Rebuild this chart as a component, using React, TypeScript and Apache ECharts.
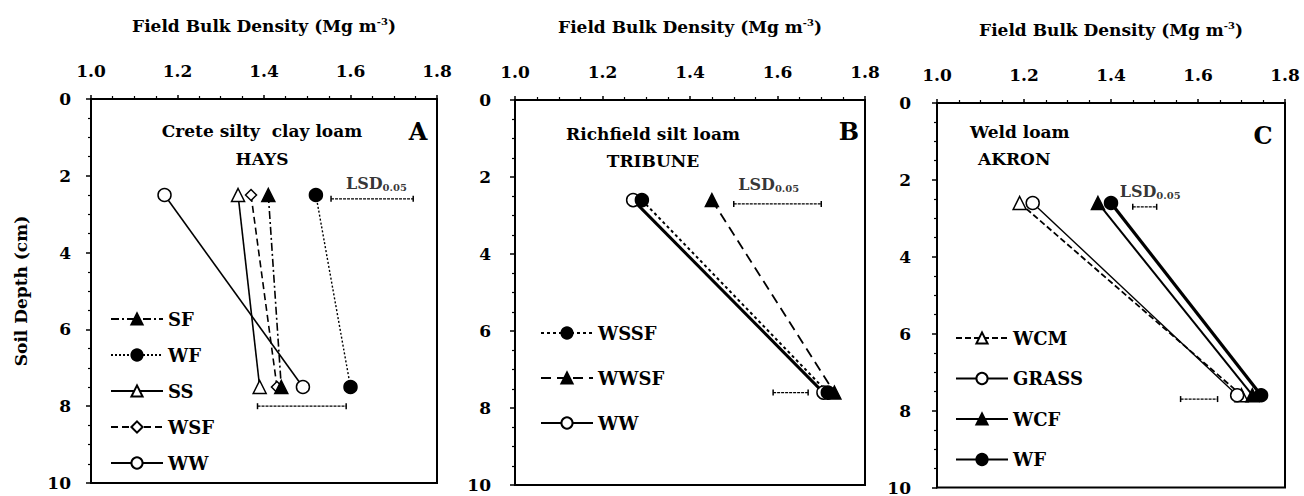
import React, { useEffect, useRef } from "react";
import * as echarts from "echarts";

// ---- data ----
const xTickLabels = ["1.0", "1.2", "1.4", "1.6", "1.8"];
const depthTicks = [0, 2, 4, 6, 8, 10];

const depthsA = [2.5, 7.5];
const depthsB = [2.6, 7.6];
const depthsC = [2.6, 7.6];

// Panel A: Crete silty clay loam, HAYS
const A_SF = [1.41, 1.44];
const A_WF = [1.52, 1.6];
const A_SS = [1.34, 1.39];
const A_WSF = [1.37, 1.43];
const A_WW = [1.17, 1.49];
const A_LSD_top = [1.555, 1.745];
const A_LSD_topDepth = 2.6;
const A_LSD_bot = [1.385, 1.59];
const A_LSD_botDepth = 8.0;

// Panel B: Richfield silt loam, TRIBUNE
const B_WSSF = [1.29, 1.715];
const B_WWSF = [1.45, 1.73];
const B_WW = [1.27, 1.705];
const B_LSD_top = [1.5, 1.7];
const B_LSD_topDepth = 2.7;
const B_LSD_bot = [1.59, 1.67];
const B_LSD_botDepth = 7.6;

// Panel C: Weld loam, AKRON
const C_WCM = [1.19, 1.7];
const C_GRASS = [1.22, 1.69];
const C_WCF = [1.37, 1.725];
const C_WF = [1.4, 1.745];
const C_LSD_top = [1.45, 1.505];
const C_LSD_topDepth = 2.7;
const C_LSD_bot = [1.56, 1.645];
const C_LSD_botDepth = 7.7;

const LSD_LABEL_X = [1.66, 1.58, 1.49];
const LSD_LABEL_D = [2.2, 2.2, 2.3];

const legendA = ["SF", "WF", "SS", "WSF", "WW"];
const legendB = ["WSSF", "WWSF", "WW"];
const legendC = ["WCM", "GRASS", "WCF", "WF"];

const FONT = "'DejaVu Serif', 'Liberation Serif', serif";

function mk(
  panel: string,
  name: string,
  xs: number[],
  ds: number[],
  g: number,
  symbol: string,
  filled: boolean,
  lineType: any,
  width: number,
  size = 13
) {
  return {
    type: "line",
    name: panel + ":" + name,
    xAxisIndex: g,
    yAxisIndex: g,
    data: xs.map((x, i) => [x, ds[i]]),
    symbol,
    symbolSize: size,
    showSymbol: true,
    itemStyle: { color: filled ? "#000" : "#fff", borderColor: "#000", borderWidth: 1.5 },
    lineStyle: { color: "#000", type: lineType, width },
    emphasis: { disabled: true },
    z: 3,
  };
}

function lsd(xs: number[], d: number, g: number) {
  return {
    type: "line",
    xAxisIndex: g,
    yAxisIndex: g,
    data: xs.map((x) => [x, d]),
    symbol: "rect",
    symbolSize: [1.5, 6],
    itemStyle: { color: "#000" },
    lineStyle: { color: "#000", width: 1.2, type: [3, 1] },
    emphasis: { disabled: true },
    z: 2,
  };
}

function lsdLabel(g: number) {
  return {
    type: "scatter",
    xAxisIndex: g,
    yAxisIndex: g,
    data: [[LSD_LABEL_X[g], LSD_LABEL_D[g]]],
    symbolSize: 0,
    label: {
      show: true,
      position: "inside",
      formatter: "{a|LSD}{b|0.05}",
      rich: {
        a: { fontFamily: FONT, fontWeight: "bold", fontSize: 16, color: "#000" },
        b: { fontFamily: FONT, fontWeight: "bold", fontSize: 10, color: "#000", padding: [8, 0, 0, 0] },
      },
    },
    emphasis: { disabled: true },
    silent: true,
  };
}

const grids = [
  { left: 91, top: 99, width: 346, height: 384 },
  { left: 515, top: 100, width: 350, height: 385 },
  { left: 937, top: 103, width: 348, height: 385 },
];

const labelMargins = [20, 24, 26];

export default function App() {
  const ref = useRef<HTMLDivElement>(null);
  useEffect(() => {
    if (!ref.current) return;
    const chart = echarts.init(ref.current, undefined, { renderer: "svg" });
    const bold = { fontFamily: FONT, fontWeight: "bold" as const, color: "#000" };

    const xAxes = grids.map((_, i) => ({
      gridIndex: i,
      type: "value",
      position: "top",
      min: 1.0,
      max: 1.8,
      interval: 0.2,
      axisLine: { show: true, onZero: false, lineStyle: { color: "#000", width: 2 } },
      axisTick: { show: true, length: 4, lineStyle: { color: "#000", width: 1.5 } },
      minorTick: { show: true, splitNumber: 4, length: 3, lineStyle: { color: "#000", width: 1.2 } },
      splitLine: { show: false },
      axisLabel: {
        ...bold,
        fontSize: 17,
        margin: 20,
        formatter: (v: number) => xTickLabels[Math.round((v - 1.0) / 0.2)] ?? "",
      },
      name: "Field Bulk Density (Mg m{s|-3})",
      nameLocation: "middle",
      nameGap: 64,
      nameTextStyle: {
        ...bold,
        fontSize: 17,
        rich: { s: { ...bold, fontSize: 10, padding: [0, 0, 9, 0] } },
      },
    }));

    const yAxes = grids.map((_, i) => ({
      gridIndex: i,
      type: "value",
      inverse: true,
      min: depthTicks[0],
      max: depthTicks[depthTicks.length - 1],
      interval: 2,
      axisLine: { show: true, onZero: false, lineStyle: { color: "#000", width: 2 } },
      axisTick: { show: true, length: 5, lineStyle: { color: "#000", width: 1.5 } },
      minorTick: { show: true, splitNumber: 4, length: 3, lineStyle: { color: "#000", width: 1.2 } },
      splitLine: { show: false },
      axisLabel: { ...bold, fontSize: 17, margin: labelMargins[i] },
      name: i === 0 ? "Soil Depth (cm)" : "",
      nameLocation: "middle",
      nameRotate: 90,
      nameGap: 62,
      nameTextStyle: { ...bold, fontSize: 17 },
    }));

    const series: any[] = [
      // A
      mk("A", "WW", A_WW, depthsA, 0, "circle", false, "solid", 1.6),
      mk("A", "SS", A_SS, depthsA, 0, "triangle", false, "solid", 1.6),
      mk("A", "WSF", A_WSF, depthsA, 0, "diamond", false, [7, 4], 1.6, 11),
      mk("A", "SF", A_SF, depthsA, 0, "triangle", true, [8, 3, 2, 3], 1.6),
      mk("A", "WF", A_WF, depthsA, 0, "circle", true, [2, 2], 1.4),
      lsd(A_LSD_top, A_LSD_topDepth, 0),
      lsd(A_LSD_bot, A_LSD_botDepth, 0),
      lsdLabel(0),
      // B
      mk("B", "WW", B_WW, depthsB, 1, "circle", false, "solid", 3),
      mk("B", "WSSF", B_WSSF, depthsB, 1, "circle", true, [3, 3], 2),
      mk("B", "WWSF", B_WWSF, depthsB, 1, "triangle", true, [10, 6], 1.8),
      lsd(B_LSD_top, B_LSD_topDepth, 1),
      lsd(B_LSD_bot, B_LSD_botDepth, 1),
      lsdLabel(1),
      // C
      mk("C", "WCM", C_WCM, depthsC, 2, "triangle", false, [6, 3], 1.8),
      mk("C", "GRASS", C_GRASS, depthsC, 2, "circle", false, "solid", 1.4),
      mk("C", "WCF", C_WCF, depthsC, 2, "triangle", true, "solid", 2),
      mk("C", "WF", C_WF, depthsC, 2, "circle", true, "solid", 3.2),
      lsd(C_LSD_top, C_LSD_topDepth, 2),
      lsd(C_LSD_bot, C_LSD_botDepth, 2),
      lsdLabel(2),
    ];

    const legendText = { ...bold, fontSize: 18 };
    const legends = [
      { data: legendA.map((n) => "A:" + n), left: 105, top: 305, itemGap: 18 },
      { data: legendB.map((n) => "B:" + n), left: 535, top: 319, itemGap: 27 },
      { data: legendC.map((n) => "C:" + n), left: 950, top: 324, itemGap: 22.5 },
    ].map((l) => ({
      ...l,
      orient: "vertical",
      itemWidth: 52,
      itemHeight: 14,
      textStyle: legendText,
      selectedMode: false,
      formatter: (name: string) => name.split(":")[1],
    }));

    const txt = (x: number, y: number, text: string, size: number, align = "center") => ({
      type: "text",
      x,
      y,
      style: { text, fontFamily: FONT, fontWeight: "bold", fontSize: size, fill: "#000", align, verticalAlign: "middle" },
      silent: true,
    });

    chart.setOption({
      animation: false,
      backgroundColor: "#fff",
      grid: grids.map((g) => ({ ...g, show: true, borderColor: "#000", borderWidth: 2, backgroundColor: "transparent" })),
      xAxis: xAxes,
      yAxis: yAxes,
      legend: legends,
      series,
      graphic: [
        txt(262, 131, "Crete silty  clay loam", 17),
        txt(262, 159, "HAYS", 17),
        txt(418, 131, "A", 24),
        txt(653, 134, "Richfield silt loam", 17),
        txt(653, 161, "TRIBUNE", 17),
        txt(849, 131, "B", 24),
        txt(970, 132, "Weld loam", 17, "left"),
        txt(978, 159, "AKRON", 17, "left"),
        txt(1263, 135, "C", 24),
      ],
    });
    return () => chart.dispose();
  }, []);
  return <div ref={ref} style={{ position: "fixed", left: 0, top: 0, width: 1304, height: 496 }} />;
}
